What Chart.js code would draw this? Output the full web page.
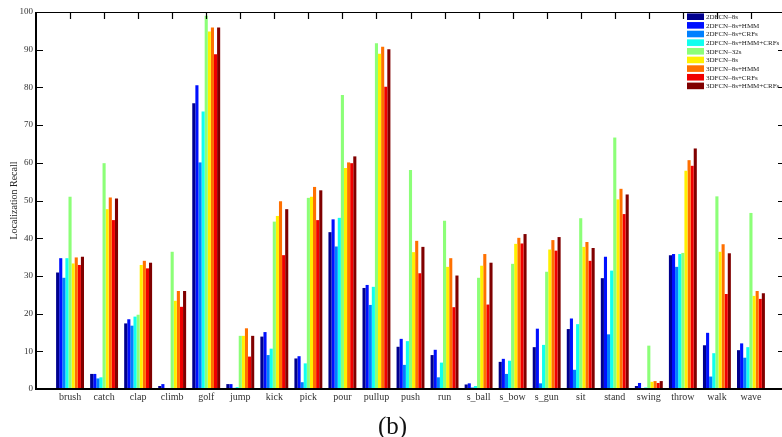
<!DOCTYPE html>
<html lang="en">
<head>
<meta charset="UTF-8">
<title>Localization Recall</title>
<script src="https://cdn.jsdelivr.net/npm/chart.js@4/dist/chart.umd.min.js"></script>
<style>
  html, body { margin: 0; padding: 0; background: #fff; overflow: hidden; }
  #wrap { width: 790px; height: 442px; }
</style>
</head>
<body>
<div id="wrap"><canvas id="bar-chart" width="790" height="442"></canvas></div>
<script>
// categories (padded with an empty slot on each side, like xlim [0 22])
const actions = ["brush", "catch", "clap", "climb", "golf", "jump", "kick", "pick", "pour", "pullup",
  "push", "run", "s_ball", "s_bow", "s_gun", "sit", "stand", "swing", "throw", "walk", "wave"];

const names = ["2DFCN\u20138s", "2DFCN\u20138s+HMM", "2DFCN\u20138s+CRFs", "2DFCN\u20138s+HMM+CRFs",
  "3DFCN\u201332s", "3DFCN\u20138s", "3DFCN\u20138s+HMM", "3DFCN\u20138s+CRFs", "3DFCN\u20138s+HMM+CRFs"];

const colors = ["#00008f", "#0010ff", "#0080ff", "#10ffef", "#8cff78", "#fff000", "#ff7000", "#f00000", "#800000"];

const fcn2d_8s        = [30.9, 4.0, 17.4, 0.8, 75.8, 1.3, 13.9, 8.1, 41.6, 26.8, 11.2, 9.0, 1.2, 7.2, 11.1, 15.9, 29.4, 0.8, 35.5, 11.6, 10.3];
const fcn2d_hmm       = [34.7, 4.0, 18.5, 1.3, 80.6, 1.3, 15.1, 8.7, 45.0, 27.6, 13.3, 10.4, 1.5, 8.0, 16.0, 18.7, 35.1, 1.6, 35.8, 14.9, 12.1];
const fcn2d_crf       = [29.5, 2.8, 16.8, 0.2, 60.1, 0.3, 9.0, 1.8, 37.8, 22.3, 6.4, 3.1, 0.4, 4.0, 1.5, 5.1, 14.5, 0.2, 32.4, 3.3, 8.3];
const fcn2d_hmm_crf   = [34.7, 3.1, 19.2, 0.2, 73.6, 0.5, 10.7, 6.8, 45.4, 27.1, 12.7, 7.0, 0.8, 7.5, 11.7, 17.2, 31.4, 0.4, 35.8, 9.5, 11.1];
const fcn3d_32s       = [51.0, 59.9, 19.7, 36.4, 99.0, 14.1, 44.4, 50.7, 78.0, 91.7, 58.1, 44.6, 29.5, 33.2, 31.1, 45.3, 66.7, 11.5, 36.1, 51.1, 46.7];
const fcn3d_8s        = [33.3, 47.7, 32.9, 23.4, 94.8, 14.1, 45.9, 51.0, 58.6, 88.9, 36.3, 32.4, 32.7, 38.5, 37.0, 37.7, 50.3, 1.9, 57.9, 36.4, 24.7];
const fcn3d_hmm       = [34.9, 50.8, 34.0, 26.0, 95.9, 16.1, 49.8, 53.6, 60.1, 90.8, 39.3, 34.7, 35.8, 40.1, 39.5, 39.0, 53.1, 2.1, 60.7, 38.4, 26.0];
const fcn3d_crf       = [32.9, 44.8, 32.0, 21.8, 88.8, 8.6, 35.5, 44.8, 59.9, 80.2, 30.7, 21.7, 22.4, 38.6, 36.7, 34.0, 46.4, 1.6, 59.2, 25.2, 23.9];
const fcn3d_hmm_crf   = [35.1, 50.5, 33.5, 26.0, 95.9, 14.1, 47.7, 52.7, 61.7, 90.1, 37.7, 30.1, 33.5, 41.1, 40.3, 37.4, 51.6, 2.1, 63.8, 36.0, 25.4];

const series = [fcn2d_8s, fcn2d_hmm, fcn2d_crf, fcn2d_hmm_crf, fcn3d_32s, fcn3d_8s, fcn3d_hmm, fcn3d_crf, fcn3d_hmm_crf];

const yTicks = [0, 10, 20, 30, 40, 50, 60, 70, 80, 90, 100];

const serif = "'Liberation Serif', 'DejaVu Serif', serif";
const labels = [""].concat(actions, [""]);

// box, inward tick marks and legend, like a matlab axes
const boxPlugin = {
  id: "box",
  afterDraw(chart) {
    const ctx = chart.ctx;
    const a = chart.chartArea;
    const xs = chart.scales.x, ys = chart.scales.y;
    ctx.save();
    ctx.strokeStyle = "#000";
    ctx.lineWidth = 1.2;
    ctx.beginPath();
    ctx.moveTo(a.left, a.top + 0.5); ctx.lineTo(a.right, a.top + 0.5);
    ctx.moveTo(a.right, a.top); ctx.lineTo(a.right, a.bottom);
    for (let i = 1; i <= actions.length; i++) {
      const px = Math.round(xs.getPixelForValue(i)) + 0.5;
      ctx.moveTo(px, a.top); ctx.lineTo(px, a.top + 7);
    }
    yTicks.forEach(v => {
      const py = Math.round(ys.getPixelForValue(v)) + 0.5;
      ctx.moveTo(a.left, py); ctx.lineTo(a.left + 7, py);
      ctx.moveTo(a.right - 7, py); ctx.lineTo(a.right, py);
    });
    ctx.stroke();
    ctx.lineWidth = 2;
    ctx.beginPath();
    ctx.moveTo(a.left, a.top); ctx.lineTo(a.left, a.bottom + 1);
    ctx.moveTo(a.left, a.bottom); ctx.lineTo(a.right, a.bottom);
    ctx.stroke();

    // legend
    ctx.font = "7px " + serif;
    ctx.textBaseline = "middle";
    ctx.textAlign = "left";
    chart.data.datasets.forEach((ds, i) => {
      const cy = 16.7 + i * 8.65;
      ctx.fillStyle = ds.backgroundColor;
      ctx.fillRect(687, cy - 3.3, 17, 6.6);
      ctx.fillStyle = "#222";
      ctx.fillText(ds.label, 706, cy + 0.5);
    });
    ctx.restore();
  }
};

new Chart(document.getElementById("bar-chart"), {
  type: "bar",
  data: {
    labels: labels,
    datasets: series.map((s, i) => ({
      label: names[i],
      data: [null].concat(s, [null]),
      backgroundColor: colors[i],
      borderWidth: 0,
      categoryPercentage: 0.82,
      barPercentage: 1
    }))
  },
  options: {
    responsive: false,
    animation: false,
    layout: { padding: { top: 12, left: 0, right: 5, bottom: 0 } },
    plugins: {
      legend: { display: false },
      tooltip: { enabled: false },
      title: {
        display: true,
        position: "bottom",
        text: "(b)",
        color: "#111",
        font: { family: serif, size: 25, weight: "normal" },
        padding: { top: 10, bottom: 0 }
      }
    },
    scales: {
      x: {
        offset: false,
        grid: { display: false, drawTicks: false },
        border: { display: false },
        ticks: {
          autoSkip: false, maxRotation: 0, padding: 2,
          color: "#333",
          font: { family: serif, size: 10 }
        },
        afterFit(scale) { scale.height = 13; }
      },
      y: {
        min: 0, max: 100,
        grid: { display: false, drawTicks: false },
        border: { display: false },
        ticks: {
          stepSize: 10, padding: 3,
          color: "#333",
          font: { family: serif, size: 9 }
        },
        title: {
          display: true,
          text: "Localization Recall",
          color: "#222",
          font: { family: serif, size: 10 },
          padding: { top: 8, bottom: 0 }
        },
        afterFit(scale) { scale.width = 36; }
      }
    }
  },
  plugins: [boxPlugin]
});
</script>
</body>
</html>
